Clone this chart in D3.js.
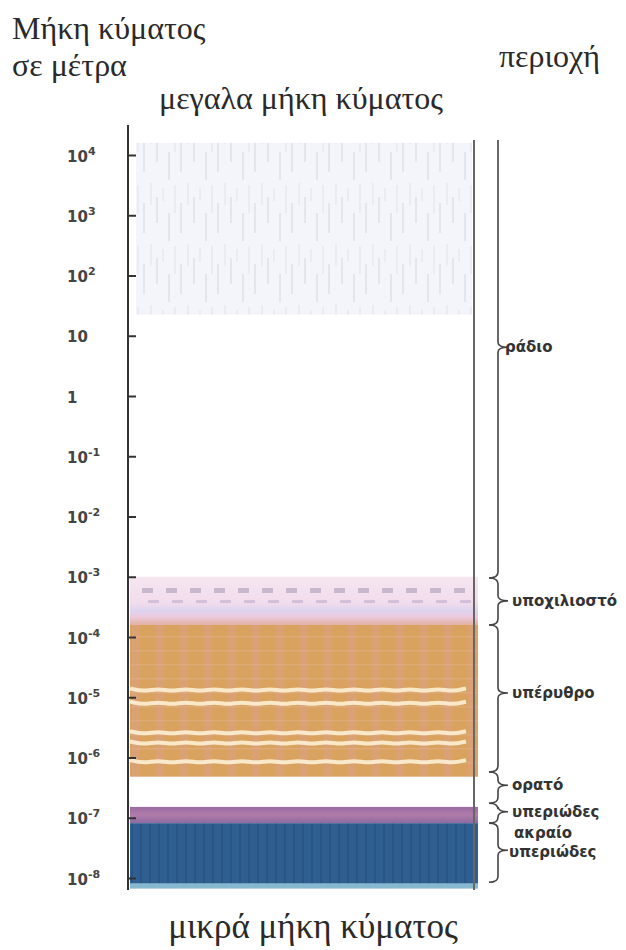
<!DOCTYPE html>
<html>
<head>
<meta charset="utf-8">
<script src="https://cdn.jsdelivr.net/npm/d3@7"></script>
<style>
  body { margin: 0; background: #fff; }
  svg { display: block; }
  .title { font-family: "Liberation Serif", "DejaVu Serif", serif; fill: #2a2a2a; }
  .tick text { font-family: "DejaVu Sans", sans-serif; font-weight: bold; fill: #444; }
  .region { font-family: "DejaVu Sans", sans-serif; fill: #333; }
</style>
</head>
<body>
<div id="chart"><svg></svg></div>
<script>
// wavelength exponents (10^n metres) shown on the axis
var tickExp = [4, 3, 2, 1, 0, -1, -2, -3, -4, -5, -6, -7, -8];
var tickBase = ["10", "10", "10", "10", "1", "10", "10", "10", "10", "10", "10", "10", "10"];
var tickSup = ["4", "3", "2", "", "", "-1", "-2", "-3", "-4", "-5", "-6", "-7", "-8"];

// coloured bands (exponent of top / bottom edge)
var bandKeys = ["radio", "submm", "infrared", "uv", "euv"];
var bandTop = [4.2, -3.0, -3.8, -6.82, -7.09];
var bandBottom = [1.35, -3.8, -6.32, -7.09, -8.17];

// light wavy lines across the infrared band
var irLines = [-4.88, -5.1, -5.59, -5.76, -6.07];
// row of dashes inside the sub-millimetre band
var submmDashes = [-3.22, -3.42];

// regions on the right (braces)
var regionNames = [["ράδιο"], ["υποχιλιοστό"], ["υπέρυθρο"], ["ορατό"], ["υπεριώδες"], ["ακραίο", "υπεριώδες"]];
var regionTop = [4.25, -3.02, -3.8, -6.24, -6.76, -7.09];
var regionBottom = [-3.02, -3.8, -6.24, -6.76, -7.09, -8.07];
var regionTip = [0.81, -3.4, -4.93, -6.46, -6.9, -7.54];

var width = 626, height = 950;
var svg = d3.select("#chart svg").attr("width", width).attr("height", height);
var defs = svg.append("defs");

var y = d3.scaleLog().domain([1e4, 1e-8]).range([155, 878]);
var ye = function(e) { return y(Math.pow(10, e)); };

var x0 = 130, x1 = 474;

// ---- patterns / gradients
var pr = defs.append("pattern").attr("id", "radioTex").attr("patternUnits", "userSpaceOnUse")
    .attr("width", 37).attr("height", 61);
pr.append("rect").attr("width", 37).attr("height", 61).attr("fill", "#f4f5fa");
[[3, 0, 22], [9, 14, 40], [15, 5, 18], [21, 30, 58], [27, 2, 30], [33, 20, 50]].forEach(function(s, i) {
  pr.append("line").attr("x1", s[0]).attr("x2", s[0]).attr("y1", s[1]).attr("y2", s[2])
    .attr("stroke", i % 2 ? "#dcdee8" : "#e7e8f0").attr("stroke-width", 1.3);
});

var pi = defs.append("pattern").attr("id", "irTex").attr("patternUnits", "userSpaceOnUse")
    .attr("width", 24).attr("height", 14);
pi.append("rect").attr("width", 24).attr("height", 14).attr("fill", "#d9a35f");
pi.append("rect").attr("x", 12).attr("width", 8).attr("height", 14).attr("fill", "#dba07a").attr("opacity", 0.8);
pi.append("rect").attr("x", 0).attr("y", 6).attr("width", 24).attr("height", 1.5).attr("fill", "#e3ad84").attr("opacity", 0.6);

var pb = defs.append("pattern").attr("id", "blueTex").attr("patternUnits", "userSpaceOnUse")
    .attr("width", 9).attr("height", 20);
pb.append("rect").attr("width", 9).attr("height", 20).attr("fill", "#2f5e90");
pb.append("rect").attr("x", 5).attr("width", 2).attr("height", 20).attr("fill", "#2a5585");

var gs = defs.append("linearGradient").attr("id", "submmGrad").attr("x1", 0).attr("x2", 0).attr("y1", 0).attr("y2", 1);
[["0", "#f6e6f0"], ["0.55", "#f1dcec"], ["0.7", "#dcd4ee"], ["0.82", "#eccbe0"], ["1", "#e2b0a2"]].forEach(function(s) {
  gs.append("stop").attr("offset", s[0]).attr("stop-color", s[1]);
});

var gu = defs.append("linearGradient").attr("id", "uvGrad").attr("x1", 0).attr("x2", 0).attr("y1", 0).attr("y2", 1);
[["0", "#9a6aa2"], ["0.5", "#b07cab"], ["1", "#8d6aa0"]].forEach(function(s) {
  gu.append("stop").attr("offset", s[0]).attr("stop-color", s[1]);
});

var bandFill = { radio: "url(#radioTex)", submm: "url(#submmGrad)", infrared: "url(#irTex)", uv: "url(#uvGrad)", euv: "url(#blueTex)" };

// ---- bands
svg.append("g").selectAll("rect").data(bandKeys).enter().append("rect")
  .attr("x", function(d) { return d === "radio" ? x0 + 6 : x0; })
  .attr("width", function(d) { return d === "radio" ? x1 - x0 - 8 : x1 - x0 + 4; })
  .attr("y", function(d, i) { return ye(bandTop[i]); })
  .attr("height", function(d, i) { return ye(bandBottom[i]) - ye(bandTop[i]); })
  .attr("fill", function(d) { return bandFill[d]; });

// light cyan lower rim of the blue band
svg.append("rect").attr("x", x0).attr("width", x1 - x0 + 4)
  .attr("y", ye(bandBottom[4]) - 5).attr("height", 5).attr("fill", "#86b9cf");

// dashes in the sub-millimetre band
var dashX = d3.range(x0 + 12, x1 - 8, 24);
svg.append("g").selectAll("g").data(submmDashes).enter().append("g")
  .each(function(e, j) {
    d3.select(this).selectAll("rect").data(dashX).enter().append("rect")
      .attr("x", function(d) { return d + (j ? 6 : 0); })
      .attr("y", ye(e) - 2).attr("width", 11).attr("height", j ? 3 : 5)
      .attr("fill", j ? "#c8b4d4" : "#b9a9c4").attr("opacity", 0.75);
  });

// wavy light lines in the infrared band
var waveX = d3.range(x0, x1 + 5, 14);
var wave = d3.line().curve(d3.curveBasis).x(function(d) { return d[0]; }).y(function(d) { return d[1]; });
svg.append("g").selectAll("path").data(irLines).enter().append("path")
  .attr("d", function(e) { return wave(waveX.map(function(px, k) { return [px, ye(e) + (k % 2 ? 1.6 : -1.6)]; })); })
  .attr("fill", "none").attr("stroke", "#fff6dc").attr("stroke-width", 4).attr("opacity", 0.85);

// ---- axis
svg.append("line").attr("x1", 128).attr("x2", 128).attr("y1", ye(4.5)).attr("y2", ye(-8.2))
  .attr("stroke", "#333").attr("stroke-width", 2);
svg.append("line").attr("x1", x1).attr("x2", x1).attr("y1", ye(4.25)).attr("y2", ye(-8.2))
  .attr("stroke", "#666").attr("stroke-width", 2);

var axis = d3.axisLeft(y)
  .tickValues(tickExp.map(function(e) { return Math.pow(10, e); }))
  .tickSize(-8).tickPadding(27).tickFormat("");
var ag = svg.append("g").attr("transform", "translate(128,0)").call(axis);
ag.select(".domain").remove();
ag.selectAll(".tick line").attr("stroke", "#333").attr("stroke-width", 2);
ag.selectAll(".tick text").each(function(d, i) {
  var t = d3.select(this).attr("font-size", 15).attr("text-anchor", "start").attr("x", -61).attr("dy", "0.4em");
  t.append("tspan").text(tickBase[i]);
  if (tickSup[i]) t.append("tspan").attr("dy", -7).attr("font-size", 11).text(tickSup[i]);
});

// ---- braces
var bx = 498, cx = 489, tx = 508;
function brace(i) {
  var a = ye(regionTop[i]), b = ye(regionBottom[i]), m = ye(regionTip[i]);
  var p = i === 0 ? "M" + bx + "," + a : "M" + cx + "," + a + "Q" + bx + "," + a + " " + bx + "," + (a + 6);
  p += "L" + bx + "," + (m - 5) + "Q" + bx + "," + m + " " + tx + "," + m +
       "Q" + bx + "," + m + " " + bx + "," + (m + 5) +
       "L" + bx + "," + (b - 6) + "Q" + bx + "," + b + " " + cx + "," + b;
  return p;
}
svg.append("g").selectAll("path").data(regionNames).enter().append("path")
  .attr("d", function(d, i) { return brace(i); })
  .attr("fill", "none").attr("stroke", "#444").attr("stroke-width", 1.6);

svg.append("g").selectAll("text").data(regionNames).enter().append("text")
  .attr("class", "region").attr("font-size", 15).attr("font-weight", "bold")
  .attr("x", function(d, i) { return i === 0 ? 505 : 512; })
  .attr("y", function(d, i) { return ye(regionTip[i]) + (d.length > 1 ? -12 : 5); })
  .each(function(d) {
    var t = d3.select(this), xx = +t.attr("x");
    d.forEach(function(s, k) { t.append("tspan").attr("x", k ? xx - 3 : xx + 2 * (d.length - 1)).attr("dy", k ? 19 : 0).text(s); });
  });

// ---- titles
var titles = [
  { t: "Μήκη κύματος", x: 12, y: 39, a: "start", s: 32 },
  { t: "σε μέτρα", x: 12, y: 76, a: "start", s: 32 },
  { t: "περιοχή", x: 600, y: 67, a: "end", s: 32 },
  { t: "μεγαλα μήκη κύματος", x: 301, y: 109, a: "middle", s: 32 },
  { t: "μικρά μήκη κύματος", x: 313, y: 938, a: "middle", s: 35 }
];
svg.append("g").selectAll("text").data(titles).enter().append("text")
  .attr("class", "title").attr("font-size", function(d) { return d.s; })
  .attr("x", function(d) { return d.x; }).attr("y", function(d) { return d.y; })
  .attr("text-anchor", function(d) { return d.a; })
  .text(function(d) { return d.t; });
</script>
</body>
</html>
